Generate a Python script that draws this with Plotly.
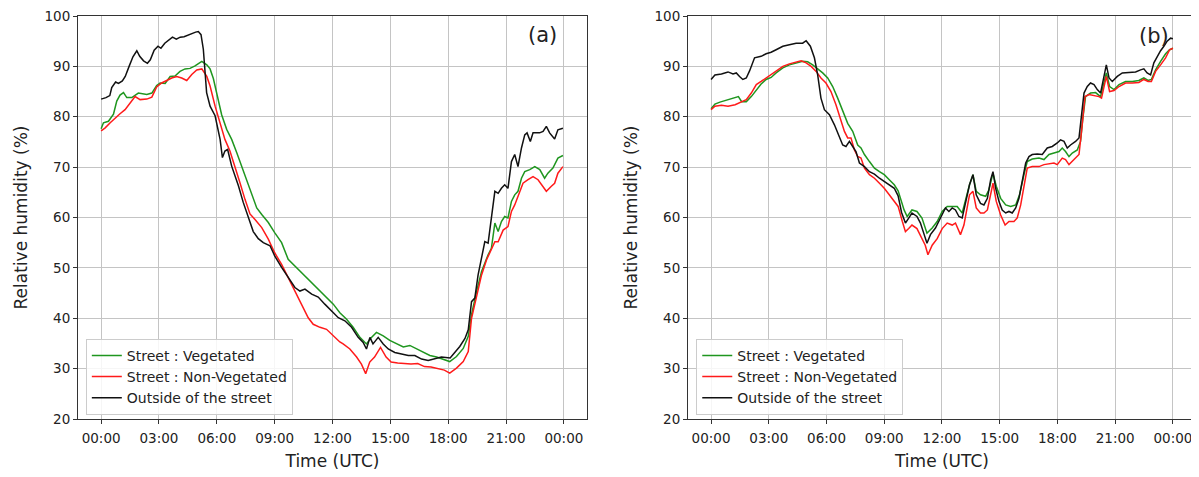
import plotly.graph_objects as go

# ---------------- Panel (a) ----------------
a_out_t = [0.0, 0.25, 0.45, 0.55, 0.75, 0.9, 1.1, 1.25, 1.45, 1.65, 1.85, 2.0, 2.2, 2.4, 2.55, 2.75, 2.95, 3.1,
           3.3, 3.5, 3.7, 3.9, 4.1, 4.3, 4.5, 4.7, 4.9, 5.04, 5.18, 5.30, 5.47, 5.65, 5.91, 6.17, 6.29, 6.42,
           6.56, 6.77, 7.12, 7.37, 7.63, 7.89, 8.15, 8.41, 8.76, 9.0, 9.36, 9.7, 10.05, 10.31, 10.57, 10.92,
           11.26, 11.6, 11.95, 12.3, 12.64, 12.99, 13.33, 13.59, 13.76, 13.94, 14.1, 14.37, 14.63, 14.89,
           15.23, 15.58, 15.93, 16.27, 16.62, 16.96, 17.3, 17.65, 18.1, 18.36, 18.6, 18.87, 19.04, 19.21,
           19.38, 19.55, 19.73, 19.9, 20.07, 20.24, 20.42, 20.59, 20.76, 20.93, 21.1, 21.28, 21.45, 21.62,
           21.8, 21.97, 22.09, 22.26, 22.4, 22.74, 22.92, 23.09, 23.26, 23.52, 23.69, 23.95]
a_out_v = [83.5, 83.8, 84.2, 85.8, 86.9, 86.6, 87.1, 88.0, 90.0, 91.9, 93.1, 92.0, 91.1, 90.6, 91.3, 93.2, 94.0, 93.6,
           94.6, 95.3, 95.8, 95.4, 95.8, 95.9, 96.2, 96.6, 96.8, 96.9, 96.3, 93.4, 84.8, 82.1, 80.2, 75.5, 71.9, 73.2,
           73.5, 70.2, 66.3, 63.0, 60.3, 57.2, 55.8, 55.0, 54.4, 52.4, 50.1, 48.1, 46.1, 45.4, 45.8, 44.8,
           44.2, 42.8, 41.5, 40.1, 39.5, 38.2, 36.2, 35.2, 33.9, 36.2, 34.9, 36.2, 34.9, 33.9,
           33.2, 32.9, 32.6, 32.6, 31.9, 31.6, 31.9, 32.3, 32.1, 33.4, 34.4, 36.0, 37.7, 43.3,
           44.0, 48.6, 51.9, 55.2, 54.9, 59.9, 65.2, 64.8, 65.8, 66.5, 65.8, 71.1, 72.5, 70.1,
           73.8, 76.4, 76.8, 75.1, 76.8, 76.8, 77.1, 78.1, 76.8, 75.6, 77.4, 77.7]

a_veg_t = [0.0, 0.12, 0.38, 0.64, 0.81, 0.98, 1.16, 1.33, 1.59, 1.93, 2.37, 2.63, 2.88, 3.06, 3.32, 3.58, 3.83,
           4.09, 4.35, 4.61, 4.87, 5.22, 5.48, 5.65, 5.82, 5.99, 6.25, 6.51, 6.77, 7.03, 7.29, 7.55, 7.81,
           8.07, 8.33, 8.67, 9.0, 9.36, 9.7, 9.96, 10.31, 10.66, 11.0, 11.35, 11.69, 12.04, 12.38, 12.73,
           13.07, 13.42, 13.76, 14.02, 14.28, 14.63, 14.97, 15.32, 15.67, 16.01, 16.36, 16.7, 17.05, 17.4,
           17.74, 18.08, 18.43, 18.78, 19.04, 19.21, 19.47, 19.73, 20.07, 20.24, 20.42, 20.59, 20.76, 20.93,
           21.1, 21.28, 21.45, 21.62, 21.8, 21.97, 22.23, 22.49, 22.75, 23.0, 23.17, 23.43, 23.69, 23.95]
a_veg_v = [77.6, 78.8, 79.1, 80.5, 83.1, 84.3, 84.8, 83.8, 83.8, 84.7, 84.4, 84.7, 86.2, 86.7, 86.6, 88.0, 88.1,
           89.0, 89.5, 89.6, 90.1, 91.0, 90.3, 89.5, 87.6, 84.7, 80.4, 77.5, 75.5, 72.9, 70.2, 67.6, 64.6,
           61.9, 60.6, 59.0, 57.0, 55.0, 51.7, 50.7, 49.4, 48.1, 46.8, 45.4, 44.1, 42.8, 41.1, 39.8,
           38.2, 36.2, 34.9, 36.2, 37.2, 36.5, 35.6, 34.9, 34.3, 34.6, 33.9, 33.3, 32.6, 32.3,
           31.9, 31.4, 32.4, 34.0, 36.4, 40.7, 45.3, 49.3, 52.6, 53.9, 58.9, 57.2, 59.2, 60.2,
           59.9, 63.2, 64.5, 65.2, 67.8, 69.1, 69.5, 70.1, 69.5, 67.8, 68.8, 69.8, 71.8, 72.3]

a_nonveg_t = [0.0, 0.21, 0.47, 0.73, 0.98, 1.24, 1.5, 1.76, 2.02, 2.37, 2.63, 2.88, 3.14, 3.4, 3.66, 3.92, 4.18,
              4.44, 4.7, 4.96, 5.22, 5.48, 5.65, 5.91, 6.17, 6.42, 6.68, 6.94, 7.2, 7.46, 7.72, 7.98, 8.33,
              8.67, 9.0, 9.36, 9.7, 10.05, 10.4, 10.74, 11.0, 11.35, 11.69, 12.04, 12.38, 12.55, 12.9, 13.25,
              13.5, 13.72, 13.93, 14.18, 14.49, 14.78, 15.04, 15.38, 15.73, 16.07, 16.42, 16.77, 17.11, 17.46,
              17.8, 18.08, 18.43, 18.78, 19.04, 19.21, 19.47, 19.73, 19.99, 20.24, 20.42, 20.59, 20.85, 21.1,
              21.28, 21.45, 21.71, 21.88, 22.14, 22.4, 22.66, 22.92, 23.09, 23.35, 23.52, 23.69, 23.95]
a_nonveg_v = [77.2, 77.8, 78.8, 79.8, 80.6, 81.4, 82.7, 84.0, 83.4, 83.5, 83.9, 85.9, 86.7, 87.2, 87.7, 88.0, 87.7,
              87.2, 88.4, 89.3, 89.5, 88.0, 86.1, 82.1, 78.5, 75.5, 73.2, 70.2, 66.9, 63.6, 60.7, 59.6, 58.0,
              55.7, 53.0, 50.7, 48.1, 45.4, 42.8, 40.1, 38.8, 38.2, 37.8, 36.5, 35.3, 34.9, 33.9, 32.3,
              30.9, 29.0, 31.3, 32.3, 34.2, 32.3, 31.3, 31.1, 31.0, 30.9, 31.0, 30.4, 30.3, 30.0,
              29.7, 29.1, 30.1, 31.4, 33.4, 40.0, 44.6, 48.6, 51.6, 53.9, 55.2, 55.2, 57.5, 58.2,
              61.2, 62.5, 65.2, 66.8, 67.5, 68.1, 67.5, 66.2, 65.2, 66.2, 66.8, 68.8, 70.1]

# ---------------- Panel (b) ----------------
b_out_t = [0.0, 0.2, 0.54, 0.88, 1.14, 1.31, 1.48, 1.65, 1.83, 2.0, 2.26, 2.6, 2.86, 3.12, 3.38, 3.73, 4.07, 4.42,
           4.76, 4.94, 5.16, 5.37, 5.54, 5.71, 5.89, 6.15, 6.41, 6.67, 6.84, 7.01, 7.19, 7.36, 7.53, 7.71, 7.97,
           8.23, 8.49, 8.75, 9.0, 9.26, 9.52, 9.72, 9.9, 10.1, 10.27, 10.44, 10.7, 10.88, 11.05, 11.22, 11.4,
           11.66, 11.92, 12.18, 12.36, 12.53, 12.7, 12.88, 13.05, 13.23, 13.43, 13.61, 13.78, 14.0, 14.18,
           14.36, 14.53, 14.65, 14.79, 14.96, 15.13, 15.31, 15.48, 15.65, 15.83, 16.0, 16.17, 16.35, 16.52,
           16.69, 16.95, 17.21, 17.47, 17.73, 17.99, 18.16, 18.34, 18.51, 18.68, 18.94, 19.12, 19.25, 19.38,
           19.55, 19.72, 19.9, 20.07, 20.24, 20.42, 20.54, 20.68, 20.85, 21.11, 21.37, 21.71, 22.06, 22.32,
           22.49, 22.66, 22.84, 23.01, 23.18, 23.36, 23.53, 23.7, 23.88, 24.0]
b_out_v = [87.4, 88.3, 88.5, 88.9, 88.5, 88.7, 88.0, 87.4, 87.7, 89.1, 91.7, 92.0, 92.5, 92.8, 93.3, 94.0, 94.3, 94.6,
           94.6, 95.1, 94.0, 91.7, 88.3, 83.7, 81.4, 80.4, 78.4, 76.1, 74.4, 74.1, 75.1, 74.1, 73.1, 70.8, 70.1,
           69.1, 68.6, 67.8, 67.2, 66.5, 65.8, 64.3, 61.0, 58.9, 59.9, 60.9, 60.2, 58.9, 56.9, 54.9, 56.6,
           57.9, 59.9, 61.9, 61.2, 61.9, 61.5, 60.2, 59.9, 63.2, 66.5, 68.5, 64.5, 62.8, 62.5,
           63.8, 67.5, 69.1, 65.8, 63.2, 61.5, 60.9, 61.2, 60.9, 61.9, 63.8, 67.2, 70.8, 72.1,
           72.5, 72.6, 72.5, 73.8, 74.1, 74.8, 75.4, 75.1, 73.8, 74.4, 75.1, 75.8, 80.4, 84.7,
           86.0, 86.7, 86.4, 85.4, 84.7, 87.7, 90.3, 87.7, 87.0, 88.0, 88.7, 88.8, 88.9, 89.3,
           89.5, 88.7, 88.3, 90.7, 92.0, 93.1, 94.0, 95.0, 95.6, 95.5]

b_veg_t = [0.0, 0.2, 0.46, 0.72, 0.98, 1.25, 1.42, 1.59, 1.83, 2.09, 2.35, 2.6, 2.86, 3.12, 3.38, 3.73, 4.07, 4.42,
           4.76, 5.02, 5.28, 5.54, 5.8, 6.06, 6.32, 6.58, 6.84, 7.1, 7.36, 7.62, 7.79, 7.97, 8.23, 8.49, 8.75,
           9.0, 9.26, 9.52, 9.72, 9.87, 10.03, 10.19, 10.44, 10.7, 10.96, 11.22, 11.49, 11.75, 12.01, 12.27,
           12.53, 12.79, 13.05, 13.23, 13.43, 13.61, 13.78, 14.0, 14.27, 14.44, 14.65, 14.82, 15.05, 15.31,
           15.57, 15.83, 16.03, 16.26, 16.43, 16.69, 17.04, 17.3, 17.56, 17.82, 18.08, 18.25, 18.42, 18.6,
           18.77, 19.03, 19.2, 19.32, 19.46, 19.72, 19.98, 20.24, 20.42, 20.54, 20.71, 20.94, 21.2, 21.54,
           21.89, 22.23, 22.49, 22.71, 22.88, 23.1, 23.36, 23.62, 23.83, 24.0]
b_veg_v = [81.6, 82.5, 82.9, 83.2, 83.4, 83.7, 84.0, 83.0, 83.0, 84.0, 85.4, 86.5, 87.4, 87.8, 88.7, 89.7, 90.3, 90.7,
           91.0, 90.9, 90.3, 89.5, 88.7, 87.7, 86.0, 83.7, 81.1, 78.7, 77.1, 74.4, 73.8, 72.5, 71.1, 69.8, 69.1,
           68.5, 67.5, 66.5, 65.3, 63.5, 61.5, 60.2, 61.5, 61.2, 59.9, 56.9, 57.9, 59.2, 61.2, 62.2,
           62.2, 62.2, 60.9, 63.8, 66.5, 68.5, 65.2, 64.5, 64.2, 65.5, 68.8, 66.2, 63.8, 62.5,
           62.2, 62.5, 64.5, 68.5, 71.1, 71.6, 71.8, 71.5, 72.5, 72.8, 73.1, 73.8, 73.1, 72.1,
           72.8, 73.4, 75.1, 79.7, 84.0, 84.7, 84.8, 84.0, 87.0, 88.7, 86.0, 85.4, 86.4, 87.0,
           87.0, 87.2, 87.7, 87.2, 87.4, 89.3, 91.0, 92.5, 93.3, 93.6]

b_nonveg_t = [0.0, 0.2, 0.54, 0.88, 1.25, 1.59, 1.83, 2.09, 2.35, 2.6, 2.86, 3.12, 3.38, 3.73, 4.07, 4.42, 4.68,
              4.94, 5.2, 5.46, 5.71, 5.97, 6.23, 6.49, 6.75, 6.93, 7.1, 7.27, 7.45, 7.62, 7.79, 7.97, 8.23, 8.49,
              8.75, 9.0, 9.26, 9.52, 9.72, 9.94, 10.1, 10.27, 10.44, 10.7, 10.96, 11.13, 11.27, 11.49, 11.75,
              12.01, 12.27, 12.53, 12.7, 12.96, 13.14, 13.31, 13.43, 13.61, 13.78, 14.0, 14.18, 14.36, 14.53,
              14.65, 14.82, 15.05, 15.28, 15.48, 15.74, 15.91, 16.09, 16.26, 16.43, 16.69, 17.04, 17.3, 17.56,
              17.82, 17.99, 18.25, 18.42, 18.6, 18.86, 19.12, 19.25, 19.43, 19.64, 19.9, 20.16, 20.29, 20.42,
              20.54, 20.71, 20.94, 21.2, 21.54, 21.89, 22.23, 22.49, 22.71, 22.88, 23.1, 23.36, 23.62, 23.83, 24.0]
b_nonveg_v = [81.4, 82.1, 82.3, 82.1, 82.4, 82.9, 83.4, 84.7, 86.4, 87.0, 87.7, 88.3, 89.1, 90.0, 90.5, 90.9, 91.1,
              90.7, 90.0, 89.0, 87.7, 86.7, 85.0, 82.4, 79.1, 77.1, 75.8, 75.8, 73.4, 72.1, 71.8, 69.8, 68.5, 67.8,
              66.8, 65.8, 64.5, 63.2, 62.2, 59.2, 57.2, 57.8, 58.5, 57.8, 55.8, 54.5, 52.6, 54.5, 55.8,
              57.8, 58.9, 58.5, 58.9, 56.6, 58.5, 61.9, 64.5, 65.2, 61.9, 60.9, 60.9, 61.5, 64.5,
              66.8, 63.2, 60.5, 58.5, 59.2, 59.2, 59.9, 62.5, 66.5, 69.8, 70.1, 70.1, 70.5, 70.7,
              70.8, 70.5, 71.8, 71.5, 70.5, 71.5, 72.5, 77.1, 84.0, 84.4, 84.2, 84.0, 83.7, 86.0,
              88.0, 85.0, 85.2, 86.0, 86.7, 86.7, 86.8, 87.4, 87.0, 87.0, 89.0, 90.3, 91.7, 93.3, 93.6]

tick_vals = [0, 3, 6, 9, 12, 15, 18, 21, 24]
tick_text = ["00:00", "03:00", "06:00", "09:00", "12:00", "15:00", "18:00", "21:00", "00:00"]
y_ticks = [20, 30, 40, 50, 60, 70, 80, 90, 100]
names = ["Street : Vegetated", "Street : Non-Vegetated", "Outside of the street"]
colors = ["#1f961f", "#ff1a1a", "#111111"]

FONT = "DejaVu Sans"
fig = go.Figure()

panels = [
    ("x", "y", "legend", [(a_veg_t, a_veg_v), (a_nonveg_t, a_nonveg_v), (a_out_t, a_out_v)]),
    ("x2", "y2", "legend2", [(b_veg_t, b_veg_v), (b_nonveg_t, b_nonveg_v), (b_out_t, b_out_v)]),
]
for xa, ya, lg, series in panels:
    for (t, v), nm, c in zip(series, names, colors):
        fig.add_trace(go.Scatter(x=t, y=v, mode="lines", name=nm, xaxis=xa, yaxis=ya, legend=lg,
                                 line=dict(color=c, width=1.5)))

axis_common = dict(showline=True, mirror=True, linecolor="#333333", linewidth=1,
                   ticks="outside", ticklen=4, tickcolor="#333333", tickwidth=1,
                   showgrid=True, gridcolor="#c4c4c4", gridwidth=1, zeroline=False, automargin=False,
                   ticklabeloverflow="allow",
                   tickfont=dict(family=FONT, size=13.5, color="#222222"))
xcommon = dict(axis_common, range=[-1.2, 25.2], tickmode="array", tickvals=tick_vals, ticktext=tick_text,
               ticklabelstandoff=3,
               title=dict(text="Time (UTC)", font=dict(family=FONT, size=17, color="#222222"), standoff=9))
ycommon = dict(axis_common, range=[20, 100], tickmode="array", tickvals=y_ticks,
               title=dict(text="Relative humidity (%)", font=dict(family=FONT, size=17, color="#222222"), standoff=12))

legend_common = dict(bgcolor="rgba(255,255,255,0.85)", bordercolor="#cccccc", borderwidth=1,
                     font=dict(family=FONT, size=14, color="#222222"), itemwidth=30,
                     xanchor="left", yanchor="top", tracegroupgap=0)

# the page body adds an 8 px offset, so the figure is drawn 8 px smaller with shifted margins
fig.update_layout(
    width=1191, height=469,
    margin=dict(l=70, r=3, t=8, b=58),
    paper_bgcolor="white", plot_bgcolor="white",
    font=dict(family=FONT, color="#222222"),
    xaxis=dict(xcommon, domain=[0, 0.4553], anchor="y"),
    yaxis=dict(ycommon, anchor="x"),
    xaxis2=dict(xcommon, domain=[0.5456, 1.0], anchor="y2"),
    yaxis2=dict(ycommon, anchor="x2"),
    legend=dict(legend_common, x=0.007, y=0.199),
    legend2=dict(legend_common, x=0.553, y=0.199),
    annotations=[
        dict(text="(a)", x=0.4159, y=0.953, xref="paper", yref="paper", showarrow=False,
             xanchor="center", yanchor="middle", font=dict(family=FONT, size=21, color="#222222")),
        dict(text="(b)", x=0.9624, y=0.950, xref="paper", yref="paper", showarrow=False,
             xanchor="center", yanchor="middle", font=dict(family=FONT, size=21, color="#222222")),
    ],
)

fig.write_html("out.html")
